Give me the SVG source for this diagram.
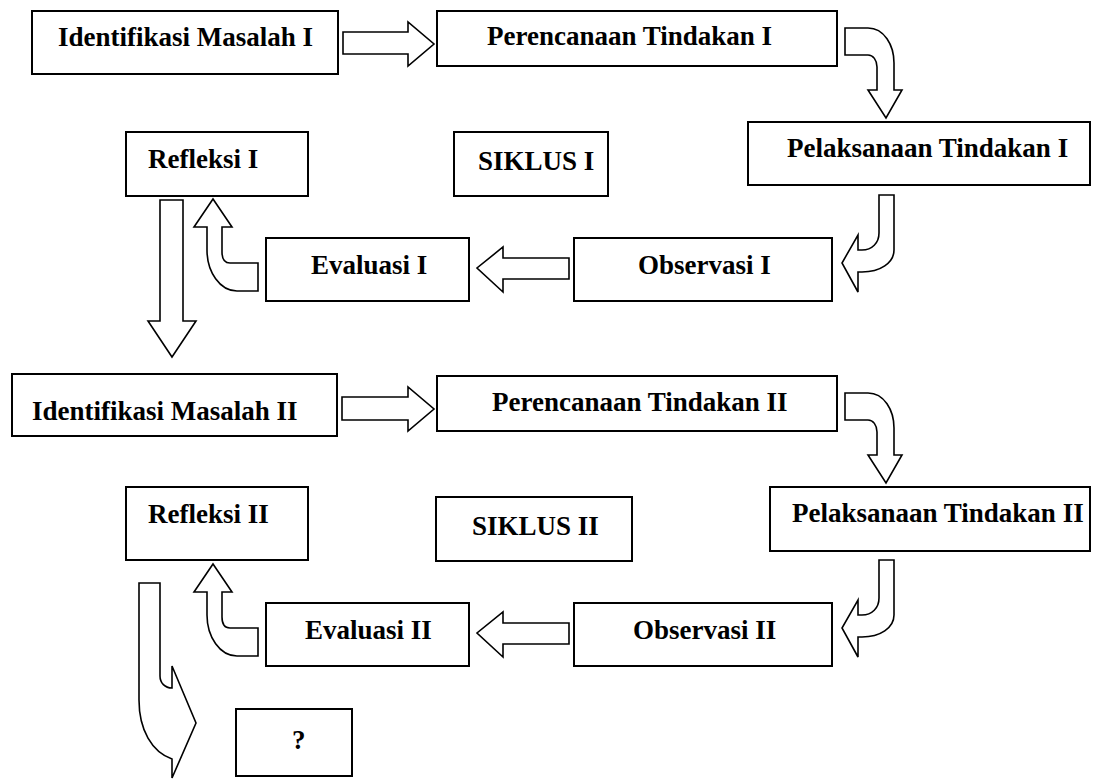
<svg xmlns="http://www.w3.org/2000/svg" width="1098" height="780" viewBox="0 0 1098 780">
<style>
.box{fill:#fff;stroke:#000;stroke-width:2}
.lbl{font-family:"Liberation Serif","Times New Roman",serif;font-weight:bold;font-size:27px;fill:#000}
.arr{fill:#fff;stroke:#000;stroke-width:1.6;stroke-linejoin:miter}
</style>
<rect width="1098" height="780" fill="#fff"/>
<g id="connectors">
<path class="arr" d="M343,32 L408,32 L408,22 L434,44 L408,66 L408,54 L343,54 Z"/>
<path class="arr" d="M845,28 L868,28 C884,28 894,45 894,63 L894,90 L902,90 L886,118 L868,90 L877,90 L877,67 C877,60 873,55 868,55 L845,55 Z"/>
<path class="arr" d="M879,195 L894,195 L894,250 C894,263 880,272 862,272 L858,272 L858,292 L842,263 L858,235 L858,250 L862,250 C872,250 879,243 879,233 Z"/>
<path class="arr" d="M569,258 L503,258 L503,247 L477,268 L503,292 L503,279 L569,279 Z"/>
<path class="arr" d="M258,263 L258,291 L237,291 C220,291 207,272 207,250 L207,227 L194,227 L213,199 L232,227 L222,227 L222,252 C222,259 225,263 230,263 Z"/>
<path class="arr" d="M160,200 L183,200 L183,321 L196,321 L172,357 L148,321 L160,321 Z"/>
<path class="arr" d="M342,397 L408,397 L408,387 L434,409 L408,431 L408,420 L342,420 Z"/>
<path class="arr" d="M845,393 L868,393 C884,393 894,410 894,428 L894,455 L902,455 L886,483 L868,455 L877,455 L877,432 C877,425 873,420 868,420 L845,420 Z"/>
<path class="arr" d="M879,560 L894,560 L894,615 C894,628 880,637 862,637 L858,637 L858,657 L842,628 L858,600 L858,615 L862,615 C872,615 879,608 879,598 Z"/>
<path class="arr" d="M569,623 L503,623 L503,612 L477,633 L503,657 L503,644 L569,644 Z"/>
<path class="arr" d="M258,628 L258,656 L237,656 C220,656 207,637 207,615 L207,592 L194,592 L213,564 L232,592 L222,592 L222,617 C222,624 225,628 230,628 Z"/>
<path class="arr" d="M139,583 L160,583 L160,676 C160,683 165,688 172,688 L172,666 L196,723 L172,778 L172,759 C152,752 139,730 139,700 Z"/>
</g>
<g id="n-identifikasi1"><rect class="box" x="32" y="11" width="306" height="63"/><text class="lbl" x="58" y="46">Identifikasi Masalah I</text></g>
<g id="n-perencanaan1"><rect class="box" x="437" y="11" width="400" height="55"/><text class="lbl" x="487" y="45">Perencanaan Tindakan I</text></g>
<g id="n-pelaksanaan1"><rect class="box" x="748" y="122" width="342" height="63"/><text class="lbl" x="787" y="157">Pelaksanaan Tindakan I</text></g>
<g id="n-refleksi1"><rect class="box" x="126" y="132" width="182" height="64"/><text class="lbl" x="148" y="168">Refleksi I</text></g>
<g id="n-siklus1"><rect class="box" x="454" y="132" width="154" height="64"/><text class="lbl" x="478" y="170">SIKLUS I</text></g>
<g id="n-evaluasi1"><rect class="box" x="266" y="238" width="203" height="63"/><text class="lbl" x="311" y="274">Evaluasi I</text></g>
<g id="n-observasi1"><rect class="box" x="574" y="238" width="258" height="63"/><text class="lbl" x="638" y="274">Observasi I</text></g>
<g id="n-identifikasi2"><rect class="box" x="12" y="374" width="325" height="62"/><text class="lbl" x="32" y="420">Identifikasi Masalah II</text></g>
<g id="n-perencanaan2"><rect class="box" x="437" y="376" width="400" height="55"/><text class="lbl" x="492" y="411">Perencanaan Tindakan II</text></g>
<g id="n-pelaksanaan2"><rect class="box" x="770" y="487" width="320" height="64"/><text class="lbl" x="792" y="522">Pelaksanaan Tindakan II</text></g>
<g id="n-refleksi2"><rect class="box" x="126" y="487" width="182" height="73"/><text class="lbl" x="148" y="523">Refleksi II</text></g>
<g id="n-siklus2"><rect class="box" x="436" y="497" width="196" height="64"/><text class="lbl" x="472" y="535">SIKLUS II</text></g>
<g id="n-evaluasi2"><rect class="box" x="266" y="603" width="203" height="63"/><text class="lbl" x="305" y="639">Evaluasi II</text></g>
<g id="n-observasi2"><rect class="box" x="574" y="603" width="258" height="63"/><text class="lbl" x="633" y="639">Observasi II</text></g>
<g id="n-unknown"><rect class="box" x="236" y="709" width="116" height="67"/><text class="lbl" x="292" y="749">?</text></g>
</svg>
